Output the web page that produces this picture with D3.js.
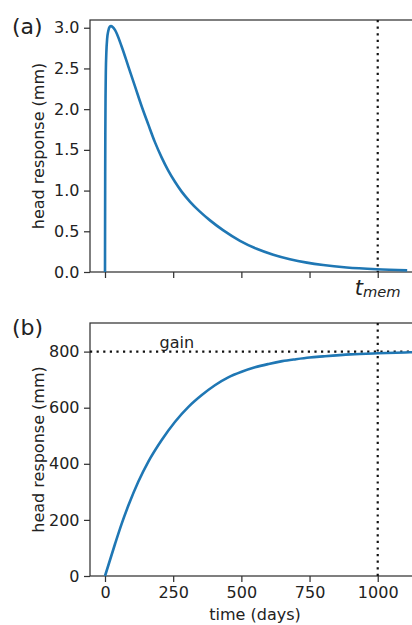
<!DOCTYPE html>
<html>
<head>
<meta charset="utf-8">
<script src="https://cdn.jsdelivr.net/npm/d3@7"></script>
<style>
  html, body { margin: 0; padding: 0; background: #fff; }
  svg { display: block; overflow: hidden; }
  text { font-family: "DejaVu Sans", sans-serif; fill: #222; }
</style>
</head>
<body>
<div id="chart"></div>
<script>
// values
const impulseTime = [0, 0.3, 0.7, 1.2, 2, 3, 5, 8, 12, 17, 22, 28, 37, 61, 86, 110, 135, 159, 183, 208, 232,
    257, 281, 312, 348, 385, 434, 495, 556, 617, 678, 740, 800, 886, 996, 1108];
const impulseHead = [0, 0.6, 1.2, 1.7, 2.15, 2.45, 2.7, 2.87, 2.96, 3.01, 3.02, 3.01, 2.97, 2.77, 2.52, 2.28, 2.03, 1.81, 1.595, 1.405, 1.245,
    1.105, 0.987, 0.862, 0.741, 0.634, 0.511, 0.383, 0.285, 0.212, 0.157, 0.115, 0.085, 0.055, 0.033, 0.02];

const stepTime = [0, 37, 61, 86, 122, 159, 208, 257, 306, 355, 403, 452, 501, 550, 600, 650, 700, 750, 800, 900, 1000, 1100, 1140];
const stepHead = [0, 115, 186, 252, 336, 408, 485, 550, 603, 645, 680, 708, 728, 744, 756, 766, 773, 779, 783, 790, 794, 797, 798];

const timeTicks = [0, 250, 500, 750, 1000];
const topHeadTicks = [0, 0.5, 1.0, 1.5, 2.0, 2.5, 3.0];
const bottomHeadTicks = [0, 200, 400, 600, 800];
const tMem = 1000;
const gain = 800;

const width = 412, height = 625;
const left = 90, right = 420;

const svg = d3.select('#chart').append('svg')
    .attr('width', width)
    .attr('height', height);

const x = d3.scaleLinear().domain([-55, 1155]).range([left, right]);

const panels = [
    { top: 20, bottom: 272, domain: [0, 3.095], ticks: topHeadTicks, fmt: d3.format('.1f'), letter: '(a)', letterY: 34 },
    { top: 323, bottom: 576, domain: [0, 902], ticks: bottomHeadTicks, fmt: d3.format('d'), letter: '(b)', letterY: 334.5 }
];

panels.forEach(p => { p.y = d3.scaleLinear().domain(p.domain).range([p.bottom, p.top]); });

function styleAxis(g) {
    g.select('.domain').remove();
    g.selectAll('.tick line').attr('stroke', '#333').attr('stroke-width', 1.25);
    g.selectAll('.tick text')
        .style('font-family', '"DejaVu Sans", sans-serif')
        .style('font-size', '16px')
        .attr('fill', '#222');
}

panels.forEach((p, i) => {
    const g = svg.append('g');

    // y axis
    g.append('g')
        .attr('transform', `translate(${left},0)`)
        .call(d3.axisLeft(p.y).tickValues(p.ticks).tickFormat(p.fmt).tickSize(6).tickPadding(4.5))
        .call(styleAxis);

    // x axis (top panel keeps ticks only)
    g.append('g')
        .attr('transform', `translate(0,${p.bottom})`)
        .call(d3.axisBottom(x).tickValues(timeTicks).tickSize(6).tickPadding(5)
            .tickFormat(i === 0 ? '' : d3.format('d')))
        .call(styleAxis);

    // frame
    g.append('rect')
        .attr('x', left).attr('y', p.top)
        .attr('width', right - left).attr('height', p.bottom - p.top)
        .attr('fill', 'none').attr('stroke', '#333').attr('stroke-width', 1.25);

    // memory line
    g.append('line')
        .attr('x1', x(tMem)).attr('x2', x(tMem))
        .attr('y1', p.top).attr('y2', p.bottom)
        .attr('stroke', '#111').attr('stroke-width', 2.2)
        .attr('stroke-dasharray', '2.2 4.4');

    g.append('text')
        .attr('x', 12)
        .attr('y', p.letterY)
        .style('font-size', '22px')
        .attr('fill', '#111')
        .text(p.letter);

    g.append('text')
        .attr('transform', `translate(43.5,${(p.top + p.bottom) / 2}) rotate(-90)`)
        .attr('text-anchor', 'middle')
        .style('font-size', '16px')
        .text('head response (mm)');
});

const [pa, pb] = panels;

// panel (a): impulse response
svg.append('path')
    .datum(impulseTime.map((t, i) => [t, impulseHead[i]]))
    .attr('d', d3.line().curve(d3.curveMonotoneX).x(d => x(d[0])).y(d => pa.y(d[1])))
    .attr('fill', 'none')
    .attr('stroke', '#1f77b4')
    .attr('stroke-width', 2.6)
    .attr('stroke-linejoin', 'round');

const tm = svg.append('text')
    .attr('x', x(tMem))
    .attr('y', 295)
    .attr('text-anchor', 'middle')
    .style('font-style', 'italic')
    .style('font-size', '21px');
tm.append('tspan').text('t');
tm.append('tspan').attr('dy', 2).style('font-size', '14.7px').text('mem');

// panel (b): step response
svg.append('line')
    .attr('x1', left).attr('x2', right)
    .attr('y1', pb.y(gain)).attr('y2', pb.y(gain))
    .attr('stroke', '#111').attr('stroke-width', 2.2)
    .attr('stroke-dasharray', '2.2 4.4');

svg.append('text')
    .attr('x', x(200))
    .attr('y', 347.5)
    .style('font-size', '16px')
    .text('gain');

svg.append('path')
    .datum(stepTime.map((t, i) => [t, stepHead[i]]))
    .attr('d', d3.line().curve(d3.curveMonotoneX).x(d => x(d[0])).y(d => pb.y(d[1])))
    .attr('fill', 'none')
    .attr('stroke', '#1f77b4')
    .attr('stroke-width', 2.6);

svg.append('text')
    .attr('x', (left + right) / 2)
    .attr('y', 620)
    .attr('text-anchor', 'middle')
    .style('font-size', '16px')
    .text('time (days)');
</script>
</body>
</html>
